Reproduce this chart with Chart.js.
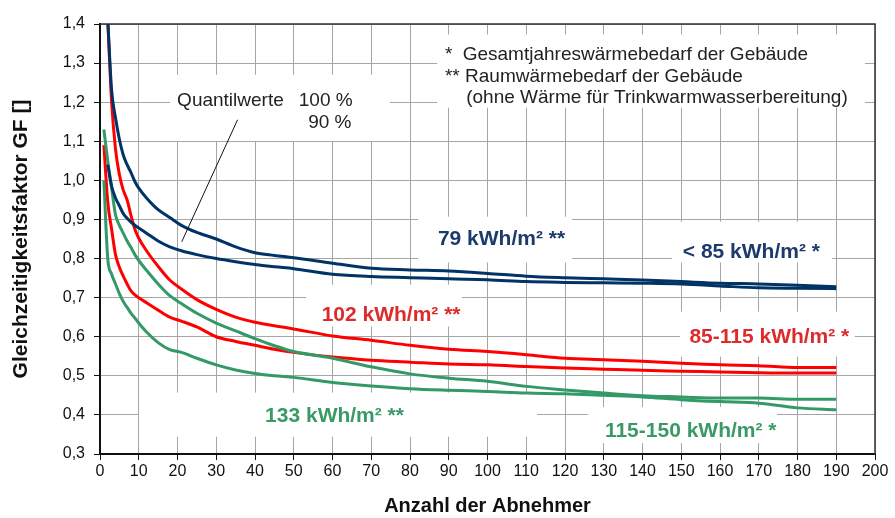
<!DOCTYPE html>
<html>
<head>
<meta charset="utf-8">
<script src="https://cdn.jsdelivr.net/npm/chart.js@4.4.0/dist/chart.umd.min.js"></script>
<style>
html, body { margin: 0; padding: 0; background: #fff; }
</style>
</head>
<body>
<canvas id="gfChart" width="895" height="518"></canvas>
<script>
// x values (Anzahl der Abnehmer)
const abnehmer = [1, 2, 3, 4, 5, 6, 7, 8, 9, 10, 12, 15, 18, 21, 25, 30, 35, 40, 45, 50, 60, 70, 80, 90, 100, 110, 120, 130, 140, 150, 160, 170, 180, 190];

// Gleichzeitigkeitsfaktor
// dark blue: < 85 kWh/m² * / 79 kWh/m² **
const blau100 = [null, 1.41, 1.23, 1.16, 1.105, 1.065, 1.04, 1.02, 0.997, 0.98, 0.955, 0.925, 0.905, 0.885, 0.867, 0.85, 0.83, 0.815, 0.808, 0.802, 0.788, 0.775, 0.771, 0.768, 0.762, 0.755, 0.751, 0.748, 0.745, 0.741, 0.737, 0.735, 0.732, 0.728];
const blau90  = [null, 1.04, 0.985, 0.955, 0.935, 0.915, 0.903, 0.893, 0.885, 0.878, 0.865, 0.845, 0.83, 0.82, 0.81, 0.8, 0.792, 0.785, 0.779, 0.774, 0.76, 0.754, 0.751, 0.748, 0.746, 0.741, 0.739, 0.738, 0.737, 0.735, 0.73, 0.725, 0.724, 0.723];
// red: 85-115 kWh/m² * / 102 kWh/m² **
const rot100  = [null, 1.41, 1.2, 1.08, 1.015, 0.975, 0.95, 0.91, 0.875, 0.852, 0.82, 0.78, 0.745, 0.722, 0.695, 0.67, 0.65, 0.637, 0.628, 0.62, 0.602, 0.591, 0.578, 0.568, 0.562, 0.554, 0.545, 0.541, 0.537, 0.532, 0.528, 0.526, 0.521, 0.521];
const rot90   = [1.09, 0.945, 0.875, 0.81, 0.778, 0.755, 0.735, 0.717, 0.707, 0.7, 0.687, 0.668, 0.65, 0.64, 0.625, 0.6, 0.588, 0.578, 0.568, 0.56, 0.548, 0.54, 0.535, 0.53, 0.528, 0.524, 0.52, 0.517, 0.514, 0.512, 0.51, 0.508, 0.507, 0.507];
// green: 115-150 kWh/m² * / 133 kWh/m² **
const gruen100 = [1.13, 1.05, 0.98, 0.912, 0.885, 0.865, 0.845, 0.828, 0.81, 0.795, 0.77, 0.735, 0.705, 0.685, 0.66, 0.635, 0.615, 0.595, 0.577, 0.562, 0.545, 0.523, 0.505, 0.494, 0.486, 0.473, 0.464, 0.456, 0.449, 0.446, 0.443, 0.443, 0.44, 0.44];
const gruen90  = [1.0, 0.8, 0.76, 0.735, 0.71, 0.69, 0.675, 0.66, 0.648, 0.635, 0.612, 0.585, 0.567, 0.56, 0.545, 0.528, 0.515, 0.506, 0.5, 0.496, 0.483, 0.474, 0.467, 0.463, 0.46, 0.456, 0.454, 0.45, 0.446, 0.439, 0.434, 0.43, 0.418, 0.413];

// white label boxes (x from, x to, y top, y bottom, in data units)
const weisseFelder = [
    [87.0, 197.4, 1.373, 1.186],   // footnote box
    [18.1, 74.8, 1.270, 1.101],    // Quantilwerte
    [82.1, 121.8, 0.907, 0.790],   // 79 kWh
    [147.6, 188.9, 0.894, 0.790],  // < 85 kWh
    [53.2, 93.4, 0.733, 0.626],    // 102 kWh
    [149.7, 194.8, 0.664, 0.549],  // 85-115 kWh
    [10.1, 112.8, 0.457, 0.344],   // 133 kWh
    [125.9, 174.7, 0.420, 0.328]   // 115-150 kWh
];

// texts: text, x, y (baseline), colour, font, align
const normal = '19px "Liberation Sans", Arial, sans-serif';
const fett = 'bold 21px "Liberation Sans", Arial, sans-serif';
const texte = [
    ['*', 89.0, 1.309, '#222', normal, 'left'],
    ['Gesamtjahreswärmebedarf der Gebäude', 93.6, 1.309, '#222', normal, 'left'],
    ['**', 89.0, 1.252, '#222', normal, 'left'],
    ['Raumwärmebedarf der Gebäude', 94.2, 1.252, '#222', normal, 'left'],
    ['(ohne Wärme für Trinkwarmwasserbereitung)', 94.5, 1.199, '#222', normal, 'left'],
    ['Quantilwerte', 19.9, 1.189, '#222', normal, 'left'],
    ['100 %', 65.2, 1.189, '#222', normal, 'right'],
    ['90 %', 64.9, 1.134, '#222', normal, 'right'],
    ['79 kWh/m² **', 87.2, 0.835, '#1c3a6b', fett, 'left'],
    ['< 85 kWh/m² *', 150.4, 0.802, '#1c3a6b', fett, 'left'],
    ['102 kWh/m² **', 57.2, 0.641, '#dd2b2b', fett, 'left'],
    ['85-115 kWh/m² *', 152.1, 0.583, '#dd2b2b', fett, 'left'],
    ['133 kWh/m² **', 42.6, 0.381, '#3a9a66', fett, 'left'],
    ['115-150 kWh/m² *', 130.3, 0.344, '#3a9a66', fett, 'left']
];

// pointer line from "Quantilwerte" to the curves
const zeiger = [[35.5, 1.155], [21.1, 0.843]];

function punkte(werte) {
    return abnehmer.map((x, i) => ({ x: x, y: werte[i] }));
}

const dunkelblau = '#003366';
const rot = '#ff0000';
const gruen = '#339966';

// draws the boxes, the frame and the labels
const beschriftung = {
    id: 'beschriftung',
    beforeDatasetsDraw(chart) {
        const { ctx, chartArea: a } = chart;
        const sx = chart.scales.x, sy = chart.scales.y;
        ctx.save();
        ctx.fillStyle = '#fff';
        weisseFelder.forEach(b => {
            const x0 = sx.getPixelForValue(b[0]);
            const x1 = sx.getPixelForValue(b[1]);
            const y0 = sy.getPixelForValue(b[2]);
            const y1 = sy.getPixelForValue(b[3]);
            ctx.fillRect(x0, y0, x1 - x0, y1 - y0);
        });
        // top and right frame
        ctx.strokeStyle = '#333';
        ctx.lineWidth = 1.5;
        ctx.beginPath();
        ctx.moveTo(a.left, a.top);
        ctx.lineTo(a.right, a.top);
        ctx.lineTo(a.right, a.bottom);
        ctx.stroke();
        ctx.restore();
    },
    afterDatasetsDraw(chart) {
        const { ctx } = chart;
        const sx = chart.scales.x, sy = chart.scales.y;
        ctx.save();
        ctx.strokeStyle = '#111';
        ctx.lineWidth = 1;
        ctx.beginPath();
        ctx.moveTo(sx.getPixelForValue(zeiger[0][0]), sy.getPixelForValue(zeiger[0][1]));
        ctx.lineTo(sx.getPixelForValue(zeiger[1][0]), sy.getPixelForValue(zeiger[1][1]));
        ctx.stroke();
        ctx.textBaseline = 'alphabetic';
        texte.forEach(t => {
            ctx.font = t[4];
            ctx.fillStyle = t[3];
            ctx.textAlign = t[5];
            ctx.fillText(t[0], sx.getPixelForValue(t[1]), sy.getPixelForValue(t[2]));
        });
        ctx.restore();
    }
};

const linie = (label, werte, farbe) => ({
    label: label,
    data: punkte(werte),
    borderColor: farbe,
    backgroundColor: farbe,
    borderWidth: 3,
    pointRadius: 0,
    cubicInterpolationMode: 'monotone',
    fill: false
});

new Chart(document.getElementById('gfChart'), {
    type: 'line',
    data: {
        datasets: [
            linie('< 85 kWh/m² * (100 %)', blau100, dunkelblau),
            linie('79 kWh/m² ** (90 %)', blau90, dunkelblau),
            linie('115-150 kWh/m² * (100 %)', gruen100, gruen),
            linie('133 kWh/m² ** (90 %)', gruen90, gruen),
            linie('85-115 kWh/m² * (100 %)', rot100, rot),
            linie('102 kWh/m² ** (90 %)', rot90, rot)
        ]
    },
    options: {
        responsive: false,
        animation: false,
        layout: { padding: { top: 24, right: 20, left: 0, bottom: 0 } },
        plugins: {
            legend: { display: false },
            tooltip: { enabled: false }
        },
        scales: {
            x: {
                type: 'linear',
                min: 0,
                max: 200,
                afterFit: (s) => { s.height = 64; },
                ticks: {
                    stepSize: 10,
                    color: '#111',
                    padding: 2,
                    maxRotation: 0,
                    autoSkip: false,
                    font: { family: '"Liberation Sans", Arial, sans-serif', size: 16 }
                },
                grid: { color: '#a6a6a6', lineWidth: 1, tickColor: '#111', tickLength: 6 },
                border: { color: '#111', width: 2 },
                title: {
                    display: true,
                    text: 'Anzahl der Abnehmer',
                    color: '#111',
                    padding: { top: 0, bottom: 0 },
                    font: { family: '"Liberation Sans", Arial, sans-serif', size: 20, weight: 'bold' }
                }
            },
            y: {
                type: 'linear',
                min: 0.3,
                max: 1.4,
                afterFit: (s) => { s.width = 100; },
                ticks: {
                    stepSize: 0.1,
                    color: '#111',
                    padding: 9,
                    callback: (v) => v.toFixed(1).replace('.', ','),
                    font: { family: '"Liberation Sans", Arial, sans-serif', size: 16 }
                },
                grid: { color: '#a6a6a6', lineWidth: 1, tickColor: '#111', tickLength: 6 },
                border: { color: '#111', width: 2 },
                title: {
                    display: true,
                    text: 'Gleichzeitigkeitsfaktor GF []',
                    color: '#111',
                    padding: { top: 9, bottom: 0 },
                    font: { family: '"Liberation Sans", Arial, sans-serif', size: 21, weight: 'bold' }
                }
            }
        }
    },
    plugins: [beschriftung]
});
</script>
</body>
</html>
